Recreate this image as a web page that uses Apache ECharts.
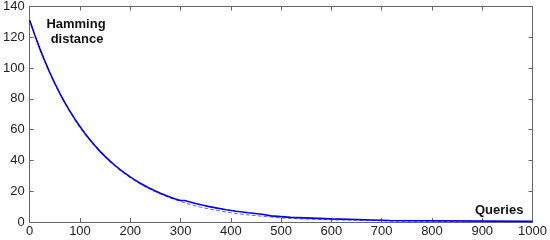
<!DOCTYPE html>
<html><head><meta charset="utf-8">
<script src="https://cdn.jsdelivr.net/npm/echarts@6/dist/echarts.min.js"></script>
<style>html,body{margin:0;padding:0;background:#fff}#c{width:550px;height:240px}</style>
</head><body><div id="c"></div>
<script>
// Tick values
const xTicks = [0,100,200,300,400,500,600,700,800,900,1000];
const yTicks = [0,20,40,60,80,100,120,140];
// Blue curve (mean Hamming distance vs queries)
const blueQueries = [0,10,20,30,40,50,60,70,80,90,100,110,120,130,140,150,160,170,180,190,200,210,220,230,240,250,260,270,280,290,300,308,308,319,319,330,330,343,343,357,357,373,373,391,391,411,411,435,435,462,462,480,480,519,519,601,601,716,716,1000];
const blueDistance = [131,121.6,112.8,104.7,97.1,90.1,83.6,77.6,72,66.8,62,57.5,53.4,49.5,45.9,42.6,39.5,36.7,34,31.6,29.3,27.2,25.2,23.4,21.7,20.2,18.7,17.4,16.1,14.9,14,14,13,13,12,12,11,11,10,10,9,9,8,8,7,7,6,6,5,5,4,4,3,3,2,2,1,1,0.4,0.4];
// Black dashed curve
const blackQueries = [0,20,40,60,80,100,120,140,160,180,200,220,240,260,280,300,320,340,360,380,400,420,450,480,500,540,600,700,720,1000];
const blackDistance = [130.5,112.2,96.4,83,71.3,61.3,52.7,45.3,38.9,33.4,28.7,24.6,21.1,18.1,15.5,13.3,11.3,9.6,8.2,7.1,6,5.1,4.1,3.2,2.6,2,1.4,0.9,0.4,0.2];

const bluePts = blueQueries.map((x,i)=>[x,blueDistance[i]]);
const blackPts = blackQueries.map((x,i)=>[x,blackDistance[i]]);

const axisColor = '#666';
const labelStyle = {color:'#222', fontFamily:'Liberation Sans, Arial, sans-serif', fontSize:13, formatter:(v)=>String(v)};
function xAx(pos, showLabel){
  return {type:'value', position:pos, min:0, max:1000, interval:100,
    axisLine:{show:true, onZero:false, lineStyle:{color:axisColor, width:1}},
    axisTick:{show:true, inside:true, length:4, lineStyle:{color:axisColor}},
    axisLabel:Object.assign({show:showLabel, margin:3}, labelStyle),
    splitLine:{show:false}};
}
function yAx(pos, showLabel){
  return {type:'value', position:pos, min:0, max:140, interval:20,
    axisLine:{show:true, onZero:false, lineStyle:{color:axisColor, width:1}},
    axisTick:{show:true, inside:true, length:4, lineStyle:{color:axisColor}},
    axisLabel:Object.assign({show:showLabel, margin:5}, labelStyle),
    splitLine:{show:false}};
}
const chart = echarts.init(document.getElementById('c'), null, {renderer:'canvas'});
chart.setOption({
  animation:false,
  backgroundColor:'#fff',
  grid:{left:27, right:16, top:5, bottom:18, containLabel:false},
  xAxis:[xAx('bottom', true), xAx('top', false)],
  yAxis:[yAx('left', true), yAx('right', false)],
  series:[
    {type:'line', data:blackPts, xAxisIndex:0, yAxisIndex:0, showSymbol:false, symbol:'none',
     lineStyle:{color:'#777', width:1, type:'dashed'}, z:2},
    {type:'line', data:bluePts, xAxisIndex:0, yAxisIndex:0, showSymbol:false, symbol:'none',
     lineStyle:{color:'#0000ee', width:1.6}, z:3}
  ],
  graphic:[
    {type:'text', x:76, y:18, style:{text:'Hamming', font:'bold 13px "Liberation Sans", Arial, sans-serif', fill:'#111', textAlign:'center'}},
    {type:'text', x:77, y:33, style:{text:'distance', font:'bold 13px "Liberation Sans", Arial, sans-serif', fill:'#111', textAlign:'center'}},
    {type:'text', x:475, y:204, style:{text:'Queries', font:'bold 13px "Liberation Sans", Arial, sans-serif', fill:'#111'}}
  ]
});
</script></body></html>
